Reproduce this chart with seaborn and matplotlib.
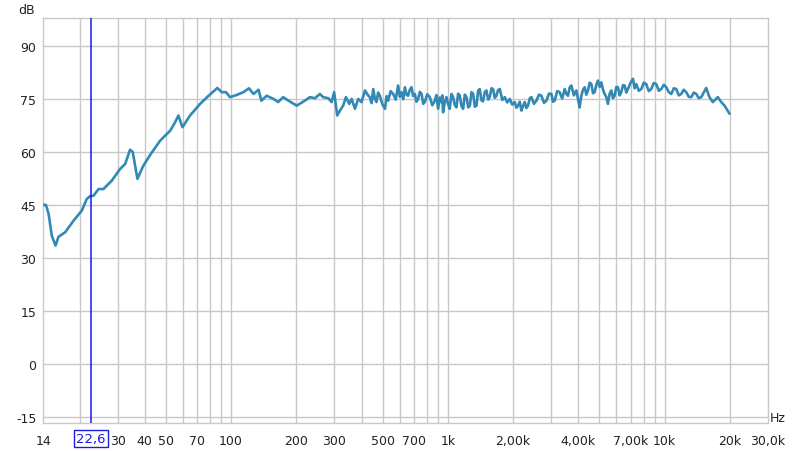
import matplotlib
matplotlib.use("Agg")
import matplotlib.pyplot as plt
import pandas as pd
import seaborn as sns

# frequency response (Hz, dB), low / smooth part
low_freq = [13.6, 14.0, 14.4, 14.9, 15.5, 16.0, 17.2, 18.8, 20.5, 21.6, 22.4,
            23.2, 24.5, 25.8, 28.2, 30.8, 32.5, 34.2, 35.2, 37.0, 39.4, 42.4,
            47.1, 52.4, 55.2, 57.2, 59.7, 64.7, 72.0, 78.5, 86.5, 90.6, 94.8,
            98.9, 106, 114, 121, 127, 134, 138, 146, 157, 165, 174, 184, 201,
            219, 231, 244, 257, 266, 281, 291, 299, 309, 318, 329, 339, 351,
            360, 373, 386, 400, 415, 430]
low_spl = [45.0, 45.0, 42.5, 36.3, 33.5, 36.0, 37.3, 40.6, 43.4, 46.7, 47.5,
           47.6, 49.5, 49.5, 51.9, 55.2, 56.6, 60.6, 60.0, 52.4, 56.1, 59.2,
           63.2, 66.0, 68.4, 70.3, 67.0, 70.3, 73.6, 75.8, 78.1, 76.9, 76.9,
           75.5, 76.1, 76.9, 78.0, 76.4, 77.6, 74.5, 75.9, 75.0, 74.1, 75.5,
           74.5, 73.1, 74.5, 75.5, 75.2, 76.4, 75.5, 75.2, 74.1, 76.9, 70.3,
           71.7, 73.1, 75.5, 73.6, 75.0, 72.2, 75.0, 74.1, 77.4, 75.9]

# noisy part above ~430 Hz
high_freq = [437, 445, 453, 461, 469, 477, 486, 499, 513, 522, 531, 545, 560,
             575, 590, 601, 612, 623, 634, 645, 656, 668, 680, 692, 705, 717,
             730, 743, 757, 770, 783, 804, 826, 848, 871, 886, 902, 918, 935,
             943, 951, 968, 986, 1003, 1021, 1040, 1058, 1077, 1096, 1116,
             1136, 1156, 1177, 1198, 1220, 1242, 1264, 1286, 1309, 1333, 1357,
             1380, 1404, 1429, 1454, 1481, 1508, 1535, 1562, 1590, 1618, 1647,
             1676, 1706, 1737, 1784, 1832, 1880, 1930, 1983, 2036, 2072, 2109,
             2147, 2186, 2225, 2264, 2304, 2345, 2387, 2430, 2496, 2563, 2633,
             2703, 2777, 2851, 2928, 3006, 3059, 3112, 3197, 3282, 3370, 3460,
             3522, 3584, 3649, 3714, 3815, 3917, 3987, 4058, 4094, 4131, 4205,
             4280, 4356, 4433, 4513, 4594, 4676, 4759, 4844, 4930, 5019, 5109,
             5200, 5290, 5385, 5479, 5580, 5679, 5781, 5884, 5990, 6096, 6205,
             6314, 6428, 6542, 6660, 6777, 6960, 7144, 7274, 7404, 7606, 7809,
             8020, 8232, 8456, 8680, 8918, 9157, 9406, 9656, 9918, 10180,
             10460, 10740, 11030, 11320, 11630, 11940, 12260, 12590, 12930,
             13280, 13640, 14000, 14380, 14760, 15560, 16110, 16700, 17610,
             18250, 18900, 19940]
high_spl = [75.5, 73.8, 77.8, 75.0, 74.1, 76.8, 75.9, 73.5, 72.2, 75.8, 74.5,
            77.2, 76.4, 74.8, 78.8, 75.6, 76.9, 74.9, 78.3, 76.2, 75.9, 77.6,
            78.3, 75.8, 76.4, 74.2, 75.0, 77.0, 76.4, 73.6, 74.1, 76.3, 75.5,
            73.2, 74.5, 76.1, 72.2, 75.4, 74.1, 76.0, 71.2, 74.0, 75.5, 73.6,
            72.2, 76.4, 75.5, 73.3, 72.6, 76.5, 75.9, 73.0, 72.2, 76.2, 75.5,
            72.6, 73.1, 76.9, 76.4, 72.8, 73.1, 77.3, 77.8, 74.6, 74.3, 77.0,
            77.4, 74.8, 75.5, 78.0, 77.8, 75.3, 75.9, 77.5, 77.8, 74.7, 75.5,
            74.0, 75.0, 73.4, 74.1, 72.5, 73.1, 74.2, 71.7, 73.0, 74.1, 72.4,
            73.1, 75.1, 75.5, 73.6, 74.5, 76.2, 75.9, 73.9, 74.5, 76.5, 76.4,
            74.2, 74.5, 77.2, 76.9, 75.1, 77.8, 76.4, 75.9, 78.2, 78.8, 76.0,
            77.4, 75.0, 72.6, 74.5, 75.9, 77.6, 78.3, 76.2, 77.4, 79.6, 79.2,
            76.6, 76.9, 79.0, 80.2, 78.4, 79.7, 77.6, 76.4, 75.5, 73.6, 76.5,
            77.4, 75.2, 75.9, 78.4, 78.3, 76.0, 76.9, 78.9, 78.8, 76.8, 77.8,
            79.5, 80.7, 78.0, 79.2, 77.3, 77.8, 79.6, 79.2, 77.2, 77.8, 79.5,
            79.2, 77.3, 77.8, 79.0, 78.3, 76.9, 76.4, 78.0, 77.8, 76.0, 76.4,
            77.6, 76.9, 75.6, 75.5, 76.8, 76.4, 75.2, 75.5, 78.1, 75.5, 74.1,
            75.5, 74.1, 73.1, 70.8]

grid_freqs = [20, 30, 40, 50, 60, 70, 80, 90, 100, 200, 300, 400, 500, 600, 700,
              800, 900, 1000, 2000, 3000, 4000, 5000, 6000, 7000, 8000, 9000,
              10000, 20000]
label_freqs = [13.6, 30, 40, 50, 70, 100, 200, 300, 500, 700, 1000, 2000, 4000,
               7000, 10000, 20000, 30000]
label_text = ["14", "30", "40", "50", "70", "100", "200", "300", "500", "700",
              "1k", "2,00k", "4,00k", "7,00k", "10k", "20k", "30,0k"]
db_ticks = [-15, 0, 15, 30, 45, 60, 75, 90]
cursor_hz = 22.6


def main():
    sns.set_style("white")
    plt.rcParams["font.family"] = ["DejaVu Sans"]
    df = pd.DataFrame({"freq": low_freq + high_freq, "spl": low_spl + high_spl})

    fig = plt.figure(figsize=(8, 4.52), dpi=100)
    ax = fig.add_axes([0.054, 0.062, 0.906, 0.896])

    ax.set_xscale("log")
    ax.set_xlim(13.6, 30000)
    ax.set_ylim(-16.7, 97.9)

    # grid like REW
    for f in grid_freqs:
        ax.axvline(f, color="#c8c8c8", lw=1, zorder=0)
    for d in db_ticks:
        ax.axhline(d, color="#c8c8c8", lw=1, zorder=0)
    for s in ax.spines.values():
        s.set_color("#c8c8c8")
        s.set_linewidth(1)

    sns.lineplot(data=df, x="freq", y="spl", ax=ax, color="#3289b5",
                 lw=1.9, sort=False, estimator=None, zorder=3)

    ax.axvline(cursor_hz, color="#1a1ae6", lw=1.1, zorder=4)

    ax.xaxis.set_major_locator(matplotlib.ticker.FixedLocator(label_freqs))
    ax.xaxis.set_minor_locator(matplotlib.ticker.NullLocator())
    ax.set_xticklabels(label_text)
    ax.set_yticks(db_ticks)
    ax.set_yticklabels([str(d) for d in db_ticks])
    ax.tick_params(axis="both", length=0, labelsize=9, colors="#222222")
    ax.tick_params(axis="x", pad=8)
    ax.tick_params(axis="y", pad=5)
    ax.set_xlabel("")
    ax.set_ylabel("")

    ax.text(-0.012, 1.005, "dB", transform=ax.transAxes, ha="right",
            va="bottom", fontsize=9, color="#222222")
    ax.text(1.003, -0.003, "Hz", transform=ax.transAxes, ha="left",
            va="bottom", fontsize=9, color="#222222")
    ax.annotate("22,6", xy=(cursor_hz, 0), xycoords=("data", "axes fraction"),
                xytext=(0, -11.5), textcoords="offset points", ha="center",
                va="center", fontsize=9.5, color="#1a1ae6", zorder=6,
                bbox=dict(boxstyle="square,pad=0.15", fc="white",
                          ec="#1a1ae6", lw=1))

    fig.savefig("out.png", dpi=100)


if __name__ == "__main__":
    main()
